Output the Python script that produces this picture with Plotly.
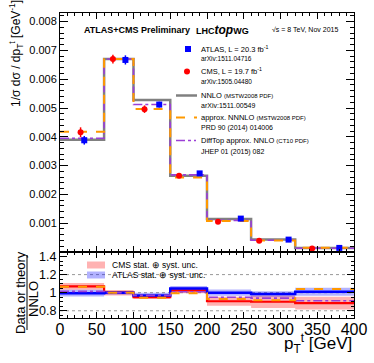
import plotly.graph_objects as go

# bin edges in top-quark pT [GeV]
edges = [0, 60, 100, 150, 200, 260, 320, 400]

# theory predictions, 1/sigma dsigma/dpT [1/GeV]
nnlo = [0.00390, 0.00670, 0.00528, 0.00265, 0.00115, 0.00043, 0.00014]
nnnlo = [0.00418, 0.00670, 0.00497, 0.00259, 0.00108, 0.00040, 0.000145]
difftop = [0.00395, 0.00670, 0.00512, 0.00268, 0.00110, 0.00041, 0.000128]

# data points
atlas_x = [33, 89, 135, 190, 246, 311, 380]
atlas_y = [0.00388, 0.00667, 0.00512, 0.00273, 0.00116, 0.00043, 0.000142]
atlas_err = [0.00015, 0.00016, 0.00010, 0.00005, 0.00003, 0.00002, 0.00001]
cms_x = [28, 72, 115, 162, 215, 271, 343]
cms_y = [0.00416, 0.00670, 0.00496, 0.00265, 0.00105, 0.00039, 0.000125]
cms_err = [0.00017, 0.00015, 0.00013, 0.00006, 0.00004, 0.00002, 0.00001]

# ratios to NNLO
cms_ratio = [1.07, 1.00, 0.95, 1.025, 0.905, 0.90, 0.885]
cms_unc = [0.038, 0.030, 0.020, 0.030, 0.050, 0.070, 0.070]
atlas_ratio = [0.995, 1.00, 0.97, 1.045, 1.00, 0.985, 1.01]
atlas_unc = [0.037, 0.020, 0.030, 0.030, 0.035, 0.030, 0.045]
nnnlo_ratio = [1.065, 1.00, 0.945, 0.995, 0.93, 0.915, 1.04]
difftop_ratio = [1.015, 1.00, 0.97, 1.01, 0.95, 0.94, 0.91]

main_ticks = [0.001, 0.002, 0.003, 0.004, 0.005, 0.006, 0.007, 0.008]
main_ticktext = ["0.001", "0.002", "0.003", "0.004", "0.005", "0.006", "0.007", "0.008"]
ratio_ticks = [0.8, 1.0, 1.2, 1.4]
ratio_ticktext = ["0.8", "1", "1.2", "1.4"]
ratio_grid = [0.8, 1.0, 1.2]
x_ticks = [0, 50, 100, 150, 200, 250, 300, 350, 400]

FONT = "Liberation Sans, Arial, sans-serif"
ORANGE = "#FF9900"
PURPLE = "#9B3FD6"
GRAY = "#808080"

# pixel -> paper helpers (plot area 60..354 x 13..318)
def px(x):
    return (x - 60) / 294.0

def py(y):
    return (318 - y) / 305.0

SPLIT = py(252)


def step(vals):
    return list(vals) + [vals[-1]]


fig = go.Figure()

# ---- main panel ----
fig.add_trace(go.Scatter(x=edges, y=step(nnlo), mode="lines", line_shape="hv",
                         line=dict(color=GRAY, width=2.5), xaxis="x", yaxis="y"))
fig.add_trace(go.Scatter(x=edges, y=step(difftop), mode="lines", line_shape="hv",
                         line=dict(color=PURPLE, width=1.6, dash="dashdot"), xaxis="x", yaxis="y"))
fig.add_trace(go.Scatter(x=edges, y=step(nnnlo), mode="lines", line_shape="hv",
                         line=dict(color=ORANGE, width=2, dash="dash"), xaxis="x", yaxis="y"))
fig.add_trace(go.Scatter(x=cms_x, y=cms_y, mode="markers",
                         marker=dict(color="#FF0000", size=6, symbol="circle"),
                         error_y=dict(type="data", array=cms_err, color="#FF0000", thickness=1.5, width=0),
                         xaxis="x", yaxis="y"))
fig.add_trace(go.Scatter(x=atlas_x, y=atlas_y, mode="markers",
                         marker=dict(color="#0000FF", size=6, symbol="square"),
                         error_y=dict(type="data", array=atlas_err, color="#0000FF", thickness=1.5, width=0),
                         xaxis="x", yaxis="y"))

# ---- ratio panel ----
for ratio, unc, fillc in [(cms_ratio, cms_unc, "rgba(255,0,0,0.3)"),
                          (atlas_ratio, atlas_unc, "rgba(0,0,255,0.3)")]:
    lo = [r - u for r, u in zip(ratio, unc)]
    hi = [r + u for r, u in zip(ratio, unc)]
    fig.add_trace(go.Scatter(x=edges, y=step(lo), mode="lines", line_shape="hv",
                             line=dict(width=0, color=fillc), xaxis="x2", yaxis="y2"))
    fig.add_trace(go.Scatter(x=edges, y=step(hi), mode="lines", line_shape="hv", fill="tonexty",
                             fillcolor=fillc, line=dict(width=0, color=fillc), xaxis="x2", yaxis="y2"))

for g in ratio_grid:
    fig.add_shape(type="line", xref="x2", yref="y2", x0=edges[0], x1=edges[-1], y0=g, y1=g,
                  line=dict(color="#999999", width=1, dash="dot"), layer="below")

fig.add_trace(go.Scatter(x=edges, y=step(cms_ratio), mode="lines", line_shape="hv",
                         line=dict(color="#FF0000", width=2.2), xaxis="x2", yaxis="y2"))
fig.add_trace(go.Scatter(x=edges, y=step(atlas_ratio), mode="lines", line_shape="hv",
                         line=dict(color="#0000FF", width=2.5), xaxis="x2", yaxis="y2"))
fig.add_trace(go.Scatter(x=edges, y=step(difftop_ratio), mode="lines", line_shape="hv",
                         line=dict(color=PURPLE, width=1.6, dash="dashdot"), xaxis="x2", yaxis="y2"))
fig.add_trace(go.Scatter(x=edges, y=step(nnnlo_ratio), mode="lines", line_shape="hv",
                         line=dict(color=ORANGE, width=2, dash="dash"), xaxis="x2", yaxis="y2"))

axis_common = dict(showline=True, linecolor="black", linewidth=1, mirror="allticks",
                   ticks="inside", tickcolor="black", showgrid=False, zeroline=False,
                   automargin=False)

fig.update_layout(
    width=374, height=363,
    autosize=False,
    margin=dict(l=60, r=20, t=13, b=45, pad=0),
    paper_bgcolor="white", plot_bgcolor="white",
    showlegend=False,
    hovermode=False,
    font=dict(family=FONT, color="black"),
    xaxis=dict(domain=[0, 1], anchor="y", range=[0, 400], tickvals=x_ticks, showticklabels=False,
               ticklen=6, minor=dict(dtick=10, ticklen=3, ticks="inside", tickcolor="black"),
               **axis_common),
    yaxis=dict(domain=[SPLIT, 1], anchor="x", range=[0, 0.0083], tickvals=main_ticks,
               ticktext=main_ticktext, ticklen=8, tickfont=dict(size=11),
               minor=dict(dtick=0.0002, ticklen=4, ticks="inside", tickcolor="black"),
               **axis_common),
    xaxis2=dict(domain=[0, 1], anchor="y2", range=[0, 400], matches="x", tickvals=x_ticks,
                ticklen=6, tickfont=dict(size=16), ticklabelstandoff=-3,
                minor=dict(dtick=10, ticklen=3, ticks="inside", tickcolor="black"),
                **axis_common),
    yaxis2=dict(domain=[0, SPLIT], anchor="x2", range=[0.72, 1.45], tickvals=ratio_ticks,
                ticktext=ratio_ticktext, ticklen=7, tickfont=dict(size=12.5),
                minor=dict(dtick=0.05, ticklen=3, ticks="inside", tickcolor="black"),
                **axis_common),
)

ann = []

def text(x, y, s, size, anchor="left", angle=0):
    ann.append(dict(x=px(x), y=py(y), xref="paper", yref="paper", text=s, showarrow=False,
                    xanchor=anchor, yanchor="middle", textangle=angle,
                    font=dict(family=FONT, size=size, color="black")))

# header
text(82, 30, "<b>ATLAS+CMS Preliminary</b>", 9)
text(194, 30, "<b>LHC<i><span style='font-size:12px'>top</span></i>WG</b>", 9)
text(270, 30, "√s = 8 TeV, Nov 2015", 7)

# legend (main panel)
small = "<span style='font-size:6px'>%s</span>"
text(199, 48.5, "ATLAS, L = 20.3 fb<sup>-1</sup>", 7.5)
text(199, 58, "arXiv:1511.04716", 6.5)
text(199, 71.5, "CMS, L = 19.7 fb<sup>-1</sup>", 7.5)
text(199, 81, "arXiv:1505.04480", 6.5)
text(199, 95, "NNLO " + small % "(MSTW2008 PDF)", 7.5)
text(199, 105, "arXiv:1511.00549", 7)
text(199, 117, "approx. NNNLO " + small % "(MSTW2008 PDF)", 7.5)
text(199, 127.5, "PRD 90 (2014) 014006", 7)
text(199, 140.5, "DiffTop approx. NNLO " + small % "(CT10 PDF)", 7.5)
text(199, 152, "JHEP 01 (2015) 082", 7)

shapes = [
    dict(type="rect", xref="paper", yref="paper", x0=px(185), x1=px(191), y0=py(52), y1=py(46),
         fillcolor="#0000FF", line=dict(width=0)),
    dict(type="circle", xref="paper", yref="paper", x0=px(184), x1=px(190), y0=py(74.5), y1=py(68.5),
         fillcolor="#FF0000", line=dict(width=0)),
    dict(type="line", xref="paper", yref="paper", x0=px(176), x1=px(197), y0=py(95.5), y1=py(95.5),
         line=dict(color=GRAY, width=2.5)),
    dict(type="line", xref="paper", yref="paper", x0=px(176), x1=px(197), y0=py(117.5), y1=py(117.5),
         line=dict(color=ORANGE, width=2, dash="dash")),
    dict(type="line", xref="paper", yref="paper", x0=px(176), x1=px(196), y0=py(140.5), y1=py(140.5),
         line=dict(color=PURPLE, width=1.6, dash="dashdot")),
    # ratio legend swatches
    dict(type="rect", xref="paper", yref="paper", x0=px(87), x1=px(105), y0=py(268.5), y1=py(261.5),
         fillcolor="rgba(255,0,0,0.3)", line=dict(width=0)),
    dict(type="rect", xref="paper", yref="paper", x0=px(87), x1=px(105), y0=py(278.5), y1=py(271.5),
         fillcolor="rgba(0,0,255,0.3)", line=dict(width=0)),
    # fraction bar of ratio title
    dict(type="line", xref="paper", yref="paper", x0=px(27), x1=px(27), y0=py(255), y1=py(330),
         line=dict(color="black", width=1)),
]
for s in shapes:
    fig.add_shape(**s)

text(110, 265, "CMS stat. ⊕ syst. unc.", 8.5)
text(110, 275, "ATLAS stat. ⊕ syst. unc.", 8.5)

# axis titles
text(16, 54, "1/σ dσ / dp<sub>T</sub><sup>t</sup> [GeV<sup>-1</sup>]", 12, anchor="center", angle=-90)
text(20, 292, "Data or theory", 13, anchor="center", angle=-90)
text(33, 299, "NNLO", 13, anchor="center", angle=-90)
text(354, 343, "p<sub>T</sub><sup>t</sup> [GeV]", 17, anchor="right")

fig.update_layout(annotations=ann)

# page has a default 8px body margin; drop it so the figure sits at the window origin
fig.write_html("out.html", config={"displayModeBar": False},
               post_script="document.body.style.margin='0';document.body.style.overflow='hidden';")
